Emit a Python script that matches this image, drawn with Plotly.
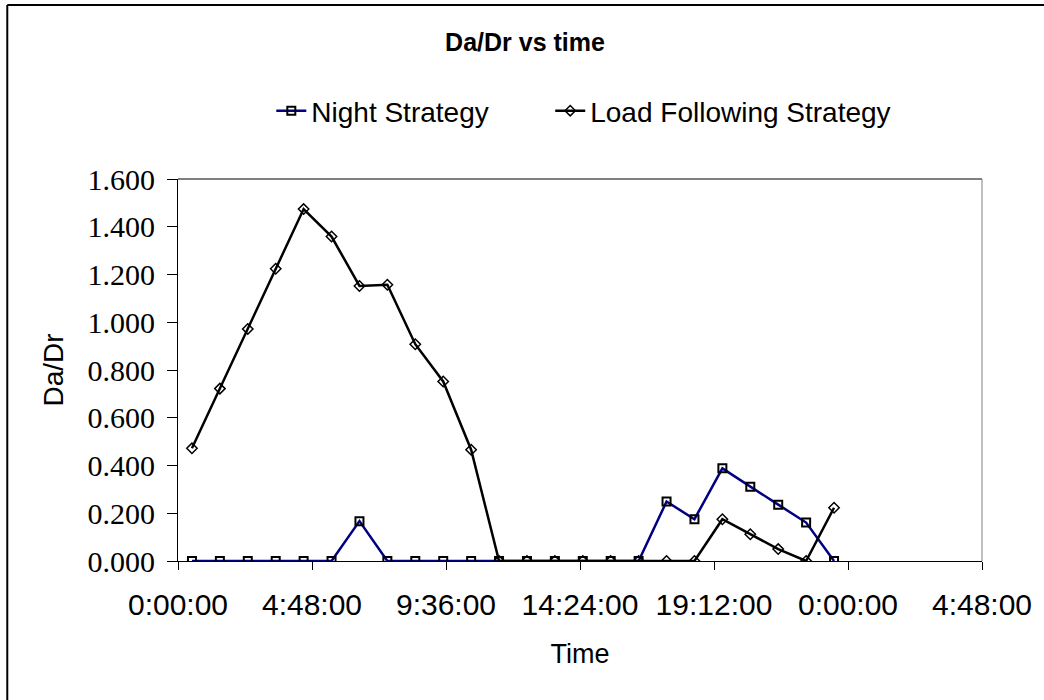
import plotly.graph_objects as go

# Hourly samples, plotted at the half hour (hours since midnight)
hours = [0.5, 1.5, 2.5, 3.5, 4.5, 5.5, 6.5, 7.5, 8.5, 9.5, 10.5, 11.5,
         12.5, 13.5, 14.5, 15.5, 16.5, 17.5, 18.5, 19.5, 20.5, 21.5, 22.5, 23.5]

night_strategy = [0.000, 0.000, 0.000, 0.000, 0.000, 0.000, 0.167, 0.000,
                  0.000, 0.000, 0.000, 0.000, 0.000, 0.000, 0.000, 0.000,
                  0.000, 0.249, 0.175, 0.388, 0.311, 0.236, 0.161, 0.000]

load_following = [0.472, 0.722, 0.972, 1.224, 1.474, 1.359, 1.152, 1.157,
                  0.908, 0.752, 0.466, 0.000, 0.000, 0.000, 0.000, 0.000,
                  0.000, 0.000, 0.000, 0.175, 0.112, 0.050, 0.000, 0.223]

x_tick_vals = [0, 4.8, 9.6, 14.4, 19.2, 24.0, 28.8]
x_tick_text = ["0:00:00", "4:48:00", "9:36:00", "14:24:00", "19:12:00", "0:00:00", "4:48:00"]

SANS = "Liberation Sans, Arial, sans-serif"
SERIF = "Liberation Serif, Times New Roman, serif"

L, R, T, B = 178, 988, 179, 561
PW, PH = R - L, B - T


def px(x):
    return (x - L) / PW


def py(y):
    return (B - y) / PH


fig = go.Figure()

fig.add_trace(go.Scatter(
    x=hours, y=night_strategy, name="Night Strategy", legend="legend",
    mode="lines+markers",
    line=dict(color="#000080", width=2.5),
    marker=dict(symbol="square-open", size=8, color="black", line=dict(width=2)),
))

fig.add_trace(go.Scatter(
    x=hours, y=load_following, name="Load Following Strategy", legend="legend2",
    mode="lines+markers",
    line=dict(color="black", width=2.5),
    marker=dict(symbol="diamond-open", size=8, color="black", line=dict(width=1.5)),
))

legend_style = dict(orientation="h", yanchor="middle", y=py(111), xanchor="left",
                    font=dict(family=SANS, size=28, color="black"),
                    bgcolor="rgba(0,0,0,0)", borderwidth=0)

fig.update_layout(
    width=1044, height=700,
    margin=dict(l=L, r=1044 - R, t=T, b=700 - B),
    paper_bgcolor="white", plot_bgcolor="white",
    font=dict(family=SANS, color="black"),
    title=dict(text="<b>Da/Dr vs time</b>", x=525 / 1044, xanchor="center",
               y=1 - 42 / 700, yanchor="middle",
               font=dict(family=SANS, size=25, color="black")),
    legend=dict(legend_style, x=px(272)),
    legend2=dict(legend_style, x=px(553)),
    showlegend=True,
)

fig.update_xaxes(
    range=[0, 28.8], tickvals=x_tick_vals, ticktext=x_tick_text,
    showgrid=False, zeroline=False,
    showline=True, linecolor="black", linewidth=1,
    ticks="outside", ticklen=8, tickcolor="black", ticklabelstandoff=9,
    tickfont=dict(family=SANS, size=30, color="black"),
    title=dict(text="Time", font=dict(family=SANS, size=27, color="black"), standoff=24),
)

fig.update_yaxes(
    range=[0, 1.6], dtick=0.2, tickformat=".3f",
    showgrid=False, zeroline=False,
    showline=True, linecolor="black", linewidth=1,
    ticks="outside", ticklen=10, tickcolor="black", ticklabelstandoff=6,
    tickfont=dict(family=SERIF, size=30, color="black"),
    title=dict(text="Da/Dr", font=dict(family=SANS, size=28, color="black"), standoff=15),
)

# Plot-area frame: dark top edge, grey right edge
fig.add_shape(type="line", xref="paper", yref="paper", x0=0, x1=1, y0=1, y1=1,
              line=dict(color="black", width=1))
fig.add_shape(type="line", xref="paper", yref="paper", x0=1, x1=1, y0=0, y1=1,
              line=dict(color="#808080", width=1))

# Chart-area frame (left and top edges)
fig.add_shape(type="line", xref="paper", yref="paper",
              x0=px(6), x1=px(6), y0=py(720), y1=py(5),
              line=dict(color="black", width=2))
fig.add_shape(type="line", xref="paper", yref="paper",
              x0=px(6), x1=px(1060), y0=py(5), y1=py(5),
              line=dict(color="black", width=2))

fig.write_html("out.html")
